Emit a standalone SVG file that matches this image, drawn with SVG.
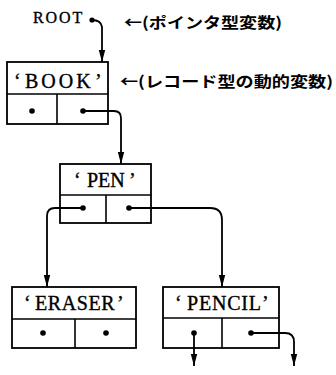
<svg xmlns="http://www.w3.org/2000/svg" width="336" height="375" viewBox="0 0 336 375">
<defs>
<style>
.box{fill:#fff;stroke:#000;stroke-width:1.8}
.ln{fill:none;stroke:#000;stroke-width:1.6}
.conn{fill:none;stroke:#000;stroke-width:1.8}
.lbl{font-family:"Liberation Serif","DejaVu Serif",serif;font-size:20px;fill:#000;stroke:#000;stroke-width:0.35}
.rt{font-family:"Liberation Serif","DejaVu Serif",serif;font-size:16px;fill:#000;stroke:#000;stroke-width:0.35}
.note{font-family:"Noto Sans CJK JP",sans-serif;font-weight:bold;font-size:15px;fill:#000}
.dot{fill:#000}
</style>
<marker id="ah" viewBox="0 0 12 10" refX="12" refY="5" markerWidth="12" markerHeight="10" markerUnits="userSpaceOnUse" orient="auto">
<path d="M0,1.8 L12,5 L0,8.2 Z" fill="#000"/>
</marker>
</defs>
<g id="root">
<text class="rt" y="23"><tspan x="33">R</tspan><tspan x="45.5">O</tspan><tspan x="59">O</tspan><tspan x="72.5">T</tspan></text>
<circle class="dot" cx="92" cy="20" r="2.6"/>
</g>
<g id="note1"><text class="note" x="124" y="28" textLength="158" lengthAdjust="spacingAndGlyphs">←(ポインタ型変数)</text></g>
<g id="note2"><text class="note" x="120" y="87" textLength="213" lengthAdjust="spacingAndGlyphs">←(レコード型の動的変数)</text></g>
<g id="book">
<rect class="box" x="7" y="62" width="101" height="62"/>
<line class="ln" x1="7" y1="94" x2="108" y2="94"/>
<line class="ln" x1="57" y1="94" x2="57" y2="124"/>
<text class="lbl" y="88"><tspan x="14">‘</tspan><tspan x="25" letter-spacing="3">BOOK</tspan><tspan x="95">’</tspan></text>
<circle class="dot" cx="32" cy="111" r="2.8"/>
<circle class="dot" cx="83" cy="111" r="2.8"/>
</g>
<g id="pen">
<rect class="box" x="60" y="164" width="91" height="59"/>
<line class="ln" x1="60" y1="195" x2="151" y2="195"/>
<line class="ln" x1="106" y1="195" x2="106" y2="223"/>
<text class="lbl" y="187"><tspan x="74">‘</tspan><tspan x="87">PEN</tspan><tspan x="129">’</tspan></text>
<circle class="dot" cx="83" cy="208" r="2.8"/>
<circle class="dot" cx="129" cy="208" r="2.8"/>
</g>
<g id="eraser">
<rect class="box" x="12" y="287" width="124" height="61"/>
<line class="ln" x1="12" y1="319" x2="136" y2="319"/>
<line class="ln" x1="75" y1="319" x2="75" y2="348"/>
<text class="lbl" y="310"><tspan x="24">‘</tspan><tspan x="35" letter-spacing="0.6">ERASER</tspan><tspan x="117">’</tspan></text>
<circle class="dot" cx="43" cy="333" r="2.8"/>
<circle class="dot" cx="106" cy="333" r="2.8"/>
</g>
<g id="pencil">
<rect class="box" x="163" y="287" width="116" height="61"/>
<line class="ln" x1="163" y1="318" x2="279" y2="318"/>
<line class="ln" x1="222" y1="318" x2="222" y2="348"/>
<text class="lbl" y="310"><tspan x="175">‘</tspan><tspan x="187" letter-spacing="0.8">PENCIL</tspan><tspan x="262">’</tspan></text>
<circle class="dot" cx="194" cy="333" r="2.8"/>
<circle class="dot" cx="251" cy="333" r="2.8"/>
</g>
<g id="connectors">
<path class="conn" d="M92,20 Q101,20 102,27 L102,62" marker-end="url(#ah)"/>
<path class="conn" d="M83,111 H114 Q121,111 121,118 L121,164" marker-end="url(#ah)"/>
<path class="conn" d="M83,208 H55 Q47,208 47,216 L47,287" marker-end="url(#ah)"/>
<path class="conn" d="M129,208 H210 Q222,208 222,220 L222,287" marker-end="url(#ah)"/>
<path class="conn" d="M194,333 L194,366" marker-end="url(#ah)"/>
<path class="conn" d="M251,333 H285 Q294,333 294,342 L294,366" marker-end="url(#ah)"/>
</g>
</svg>
